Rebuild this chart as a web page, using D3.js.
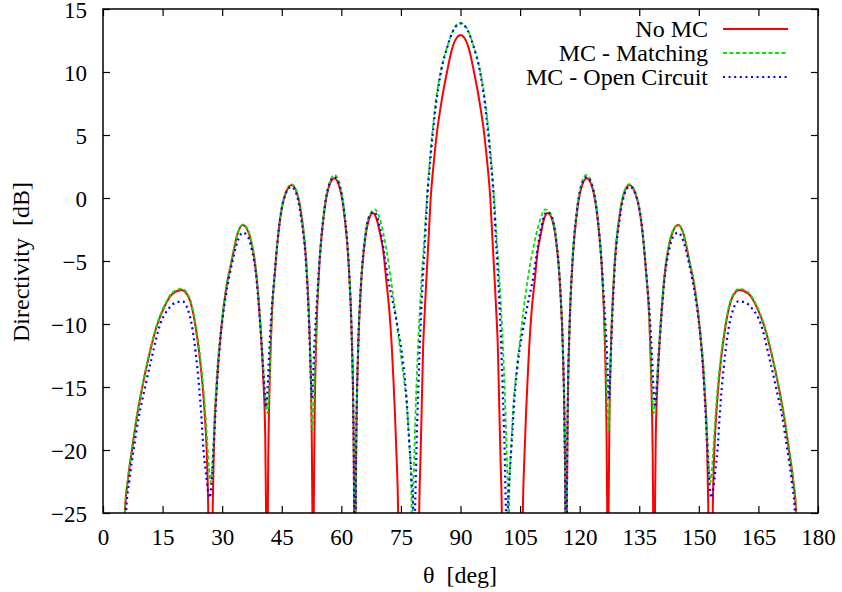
<!DOCTYPE html>
<html>
<head>
<meta charset="utf-8">
<script src="https://cdn.jsdelivr.net/npm/d3@7"></script>
<style>
  body { margin: 0; background: #fff; }
</style>
</head>
<body>
<div id="vis"></div>
<script>
/* Readings: [theta (deg), directivity (dB)] — values below -25 dB are clipped by the frame */
const noMC = [
  [4.6,-40],[5.5,-25],[6.3,-22.3],[7.3,-20],[8.5,-17.4],[9.9,-15],[11.6,-12.5],[13.5,-10.2],[15.5,-8.6],[17.5,-7.6],[19.8,-7.3],[21.6,-7.9],[23.2,-10],[24.3,-12.5],[25.1,-15],[25.7,-17.6],[26.1,-20],[26.5,-25],[27.05,-45],
  [27.6,-25],[27.9,-20],[28.6,-15],[29.9,-10],[31.0,-7.2],[32.4,-5],[33.8,-2.9],[35.2,-2.14],[36.6,-2.7],[37.6,-3.9],[38.5,-5.8],[39.5,-9.6],[40.3,-14],[40.85,-19],[41.05,-25],[41.3,-45],
  [41.5,-25],[41.7,-18.5],[41.9,-15.4],[42.5,-9.4],[43.3,-5.8],[44.3,-2.4],[45.8,0.2],[47.5,1.03],[48.7,0.5],[49.9,-1.3],[51.4,-6.4],[52.1,-11.7],[52.5,-17.7],[52.72,-25],[52.9,-45],
  [53.06,-25],[53.3,-17],[53.7,-11],[54.4,-5.7],[55.5,-1.6],[56.7,0.7],[58.2,1.56],[59.6,0.8],[60.8,-1.45],[61.9,-5.6],[62.6,-10.8],[63.0,-16.8],[63.23,-25],[63.4,-45],
  [63.6,-25],[63.8,-18.4],[64.2,-12.4],[64.9,-7.2],[65.9,-3.5],[66.9,-1.74],[67.9,-1.2],[68.8,-1.6],[69.8,-2.9],[70.6,-4.3],[71.3,-6.5],[72.1,-9],[72.7,-11.8],[73.1,-14.3],[73.5,-17.1],[73.9,-20.5],[74.3,-25],[74.6,-45],
  [79.3,-45],[79.6,-25],[79.9,-21],[80.2,-17.1],[80.6,-11.8],[81.0,-9],[81.4,-6.5],[82.0,-3],[82.5,0],[83.2,2.6],[84.0,5],[85.3,7.8],[86.6,10],[87.8,11.75],[89.0,12.7],[90,12.94],
  [91.0,12.7],[92.2,11.75],[93.4,10],[94.7,7.8],[96.0,5],[96.8,2.6],[97.5,0],[98.0,-3],[98.6,-6.5],[99.0,-9],[99.4,-11.8],[99.8,-17.1],[100.1,-21],[100.4,-25],[100.7,-45],
  [105.4,-45],[105.7,-25],[106.1,-20.5],[106.5,-17.1],[106.9,-14.3],[107.3,-11.8],[107.9,-9],[108.7,-6.5],[109.4,-4.3],[110.2,-2.9],[111.1,-1.6],[112.0,-1.2],[113.1,-1.74],[114.1,-3.5],[115.1,-7.2],[115.8,-12.4],[116.2,-18.4],[116.4,-25],[116.6,-45],
  [116.77,-25],[117.0,-16.8],[117.4,-10.8],[118.1,-5.6],[119.2,-1.45],[120.4,0.8],[121.8,1.56],[123.3,0.7],[124.5,-1.6],[125.6,-5.7],[126.3,-11],[126.7,-17],[126.94,-25],[127.1,-45],
  [127.28,-25],[127.5,-17.7],[127.9,-11.7],[128.6,-6.4],[130.1,-1.3],[131.3,0.5],[132.5,1.03],[134.2,0.2],[135.7,-2.4],[136.7,-5.8],[137.5,-9.4],[138.1,-15.4],[138.3,-18.5],[138.5,-25],[138.7,-45],
  [138.95,-25],[139.15,-19],[139.7,-14],[140.5,-9.6],[141.5,-5.8],[142.4,-3.9],[143.4,-2.7],[144.8,-2.14],[146.2,-2.9],[147.6,-5],[149.0,-7.2],[150.1,-10],[151.4,-15],[152.1,-20],[152.4,-25],[152.95,-45],
  [153.5,-25],[153.9,-20],[154.3,-17.6],[154.9,-15],[155.7,-12.5],[156.8,-10],[158.4,-7.9],[160.2,-7.3],[162.5,-7.6],[164.5,-8.6],[166.5,-10.2],[168.4,-12.5],[170.1,-15],[171.5,-17.4],[172.7,-20],[173.7,-22.3],[174.5,-25],[175.4,-40]
];

const mcMatching = [
  [4.7,-40],[5.5,-25],[6.3,-22.2],[7.3,-19.9],[8.5,-17.3],[9.9,-14.9],[11.6,-12.4],[13.5,-10.1],[15.5,-8.5],[17.5,-7.5],[19.8,-7.2],[21.6,-7.8],[23.2,-9.8],[24.3,-12.2],[25.1,-14.5],[25.7,-16.8],[26.2,-19.2],[26.7,-21.5],[27.1,-22.6],
  [27.5,-21.2],[27.9,-18.6],[28.6,-14.3],[29.9,-9.8],[31.0,-7.1],[32.4,-4.9],[33.8,-2.9],[35.2,-2.1],[36.6,-2.6],[37.6,-3.8],[38.5,-5.6],[39.5,-9.2],[40.3,-13.0],[40.9,-16.0],[41.4,-17.1],
  [41.8,-15.3],[42.5,-9.4],[43.3,-5.8],[44.3,-2.3],[45.8,0.3],[47.5,1.1],[48.7,0.6],[49.9,-1.2],[51.4,-6.1],[52.0,-10.5],[52.4,-15.3],[52.7,-18.4],
  [53.0,-16.5],[53.3,-13.8],[53.7,-10.3],[54.4,-5.5],[55.5,-1.4],[56.7,0.9],[58.3,1.83],[59.6,1.1],[60.8,-1.2],[61.9,-5.4],[62.6,-10.7],[63.0,-16.7],[63.23,-25],[63.4,-45],
  [63.6,-25],[63.8,-18.3],[64.2,-12.2],[64.9,-7],[65.9,-3.2],[67.0,-1.4],[68.5,-0.9],[70.0,-2.0],[71.3,-4],[72.5,-6.5],[73.5,-8.8],[74.6,-11.5],[75.6,-14],[76.5,-16.5],[77.1,-19.5],[77.6,-23],[77.85,-30],
  [78.0,-25],[78.4,-20],[78.9,-15],[79.5,-10.5],[80.2,-6.5],[80.9,-3.2],[81.5,-0.2],[82.5,3.8],[83.8,7.7],[85.2,10.3],[86.7,12.05],[88.2,13.35],[90,13.9],
  [91.8,13.35],[93.3,12.05],[94.8,10.3],[96.2,7.7],[97.5,3.8],[98.5,-0.2],[99.1,-3.2],[99.8,-6.5],[100.5,-10.5],[101.1,-15],[101.6,-20],[102.0,-25],[102.15,-30],
  [102.3,-23],[102.8,-19.5],[103.3,-16.5],[104.0,-14],[104.9,-11.5],[105.9,-8.8],[106.9,-6.5],[108.3,-4],[109.8,-2.0],[111.3,-0.9],[112.9,-1.4],[114.1,-3.2],[115.1,-7],[115.8,-12.2],[116.2,-18.3],[116.4,-25],[116.6,-45],
  [116.77,-25],[117.0,-16.7],[117.4,-10.7],[118.1,-5.4],[119.2,-1.2],[120.4,1.1],[121.7,1.83],[123.3,0.9],[124.5,-1.4],[125.6,-5.5],[126.3,-10.3],[126.7,-13.8],[127.0,-16.5],
  [127.3,-18.4],[127.6,-15.3],[128.0,-10.5],[128.6,-6.1],[130.1,-1.2],[131.3,0.6],[132.5,1.1],[134.2,0.3],[135.7,-2.3],[136.7,-5.8],[137.5,-9.4],[138.2,-15.3],[138.6,-17.1],
  [139.1,-16.0],[139.7,-13.0],[140.5,-9.2],[141.5,-5.6],[142.4,-3.8],[143.4,-2.6],[144.8,-2.1],[146.2,-2.9],[147.6,-4.9],[149.0,-7.1],[150.1,-9.8],[151.4,-14.3],[152.1,-18.6],[152.5,-21.2],[152.9,-22.6],
  [153.3,-21.5],[153.8,-19.2],[154.3,-16.8],[154.9,-14.5],[155.7,-12.2],[156.8,-9.8],[158.4,-7.8],[160.2,-7.2],[162.5,-7.5],[164.5,-8.5],[166.5,-10.1],[168.4,-12.4],[170.1,-14.9],[171.5,-17.3],[172.7,-19.9],[173.7,-22.2],[174.5,-25],[175.3,-40]
];

const mcOpen = [
  [5.1,-35],[5.8,-25],[6.6,-22.5],[7.7,-20],[9.0,-17.4],[10.6,-15],[12.4,-12.5],[14.4,-10],[16.5,-8.8],[18.3,-8.3],[20.0,-8.2],[21.3,-8.8],[22.3,-10],[23.3,-12.2],[24.2,-15],[24.8,-17.5],[25.3,-20],[25.9,-21.8],[26.4,-23.1],[26.85,-23.8],
  [27.3,-22.8],[27.8,-20.2],[28.4,-16.5],[29.0,-13.3],[29.9,-10.1],[31.0,-7.6],[32.4,-5.3],[33.8,-3.5],[35.2,-2.75],[36.5,-3.1],[37.6,-4.3],[38.5,-6.0],[39.4,-9.3],[40.2,-13.0],[40.7,-15.5],[41.0,-16.6],
  [41.4,-15.2],[41.8,-12.5],[42.3,-9.6],[43.2,-6.1],[44.2,-2.6],[45.7,0.1],[47.4,0.9],[48.6,0.4],[49.8,-1.4],[51.3,-6.2],[51.9,-10.3],[52.3,-13.8],[52.55,-15.9],
  [52.85,-14.5],[53.2,-11.8],[53.7,-9.0],[54.4,-5.5],[55.5,-1.5],[56.7,0.8],[58.2,1.65],[59.6,0.9],[60.8,-1.3],[61.9,-5.5],[62.6,-10.8],[63.0,-16.7],[63.23,-25],[63.4,-45],
  [63.6,-25],[63.8,-18.4],[64.2,-12.3],[64.9,-7.1],[65.9,-3.4],[66.9,-1.6],[68.2,-1.1],[69.6,-2.2],[70.7,-4.2],[71.8,-6.5],[73.0,-8.3],[74.3,-10.5],[75.2,-12.2],[76.0,-14.4],[76.5,-16.3],[76.9,-18.4],[77.3,-20.3],[77.7,-22.4],[78.1,-24.8],[78.3,-28],
  [78.55,-25],[78.9,-20],[79.4,-15],[79.9,-10.5],[80.5,-6.5],[81.1,-3.2],[81.6,-0.2],[82.6,3.7],[83.9,7.6],[85.2,10.2],[86.7,12.0],[88.2,13.3],[90,13.85],
  [91.8,13.3],[93.3,12.0],[94.8,10.2],[96.1,7.6],[97.4,3.7],[98.4,-0.2],[98.9,-3.2],[99.5,-6.5],[100.1,-10.5],[100.6,-15],[101.1,-20],[101.45,-25],[101.7,-28],
  [101.9,-24.8],[102.3,-22.4],[102.7,-20.3],[103.1,-18.4],[103.5,-16.3],[104.0,-14.4],[104.8,-12.2],[105.7,-10.5],[107.0,-8.3],[108.2,-6.5],[109.3,-4.2],[110.4,-2.2],[111.8,-1.1],[113.1,-1.6],[114.1,-3.4],[115.1,-7.1],[115.8,-12.3],[116.2,-18.4],[116.4,-25],[116.6,-45],
  [116.77,-25],[117.0,-16.7],[117.4,-10.8],[118.1,-5.5],[119.2,-1.3],[120.4,0.9],[121.8,1.65],[123.3,0.8],[124.5,-1.5],[125.6,-5.5],[126.3,-9.0],[126.8,-11.8],[127.15,-14.5],
  [127.45,-15.9],[127.7,-13.8],[128.1,-10.3],[128.7,-6.2],[130.2,-1.4],[131.4,0.4],[132.6,0.9],[134.3,0.1],[135.8,-2.6],[136.8,-6.1],[137.7,-9.6],[138.2,-12.5],[138.6,-15.2],[139.0,-16.6],
  [139.3,-15.5],[139.8,-13.0],[140.6,-9.3],[141.5,-6.0],[142.4,-4.3],[143.5,-3.1],[144.8,-2.75],[146.2,-3.5],[147.6,-5.3],[149.0,-7.6],[150.1,-10.1],[151.0,-13.3],[151.6,-16.5],[152.2,-20.2],[152.7,-22.8],[153.15,-23.8],
  [153.6,-23.1],[154.1,-21.8],[154.7,-20],[155.2,-17.5],[155.8,-15],[156.7,-12.2],[157.7,-10],[158.7,-8.8],[160.0,-8.2],[161.7,-8.3],[163.5,-8.8],[165.6,-10],[167.6,-12.5],[169.4,-15],[171.0,-17.4],[172.3,-20],[173.4,-22.5],[174.2,-25],[174.9,-35]
];

const seriesNames = ["No MC", "MC - Matching", "MC - Open Circuit"];
const xTicks = [0, 15, 30, 45, 60, 75, 90, 105, 120, 135, 150, 165, 180];
const yTicks = [-25, -20, -15, -10, -5, 0, 5, 10, 15];

/* styles */
const FONT = '"Liberation Serif", "DejaVu Serif", serif';
const styles = [
  { color: "#ff0000", width: 2,   dash: null },
  { color: "#00e600", width: 1.8, dash: "4,2.5" },
  { color: "#0000ff", width: 2.2, dash: "2,3.6" }
];

const W = 842, H = 592;
const m = { left: 103, right: 24, top: 9, bottom: 79 };

const x = d3.scaleLinear().domain([0, 180]).range([m.left, W - m.right]);
const y = d3.scaleLinear().domain([-25, 15]).range([H - m.bottom, m.top]);

const svg = d3.select("#vis").append("svg")
    .attr("width", W).attr("height", H)
    .style("font-family", FONT)
    .style("font-size", "24px");

svg.append("defs").append("clipPath").attr("id", "plot-clip")
  .append("rect")
    .attr("x", m.left).attr("y", m.top)
    .attr("width", W - m.left - m.right).attr("height", H - m.top - m.bottom);

/* axes: ticks drawn inward, mirrored on top/right */
const tick = 7;
const axB = svg.append("g").attr("transform", `translate(0,${H - m.bottom})`)
  .call(d3.axisBottom(x).tickValues(xTicks).tickSize(-tick).tickPadding(16));
const axT = svg.append("g").attr("transform", `translate(0,${m.top})`)
  .call(d3.axisTop(x).tickValues(xTicks).tickSize(-tick).tickFormat(""));
const axL = svg.append("g").attr("transform", `translate(${m.left},0)`)
  .call(d3.axisLeft(y).tickValues(yTicks).tickSize(-tick).tickPadding(16));
const axR = svg.append("g").attr("transform", `translate(${W - m.right},0)`)
  .call(d3.axisRight(y).tickValues(yTicks).tickSize(-tick).tickFormat(""));

[axB, axT, axL, axR].forEach(g => {
  g.attr("font-family", null).attr("font-size", null);
  g.select(".domain").remove();
  g.selectAll("line").attr("stroke", "#000").attr("stroke-width", 1.2);
  g.selectAll("text").attr("fill", "#000")
    .style("font-family", FONT).style("font-size", "23px");
});
axL.selectAll("text").attr("dy", "0.38em");

/* series */
const line = d3.line()
  .x(d => x(d[0]))
  .y(d => y(d[1]))
  .curve(d3.curveMonotoneX);

const plot = svg.append("g").attr("clip-path", "url(#plot-clip)");
[noMC, mcMatching, mcOpen].forEach((data, i) => {
  plot.append("path")
    .datum(data)
    .attr("d", line)
    .attr("fill", "none")
    .attr("stroke", styles[i].color)
    .attr("stroke-width", styles[i].width)
    .attr("stroke-dasharray", styles[i].dash)
    .attr("stroke-linejoin", "round");
});

/* frame */
svg.append("rect")
  .attr("x", m.left).attr("y", m.top)
  .attr("width", W - m.left - m.right).attr("height", H - m.top - m.bottom)
  .attr("fill", "none").attr("stroke", "#000").attr("stroke-width", 1.5);

/* axis titles */
svg.append("text")
  .attr("x", 460).attr("y", 583)
  .attr("text-anchor", "middle")
  .style("white-space", "pre")
  .text("θ  [deg]");

svg.append("text")
  .attr("transform", "translate(29,262) rotate(-90)")
  .attr("text-anchor", "middle")
  .style("white-space", "pre")
  .text("Directivity  [dB]");

/* legend */
const legend = svg.append("g");
seriesNames.forEach((name, i) => {
  const by = 37 + i * 24;
  legend.append("text")
    .attr("x", 708).attr("y", by)
    .attr("text-anchor", "end")
    .text(name);
  legend.append("line")
    .attr("x1", 723).attr("x2", 788)
    .attr("y1", by - 8).attr("y2", by - 8)
    .attr("stroke", styles[i].color)
    .attr("stroke-width", styles[i].width)
    .attr("stroke-dasharray", styles[i].dash);
});
</script>
</body>
</html>
